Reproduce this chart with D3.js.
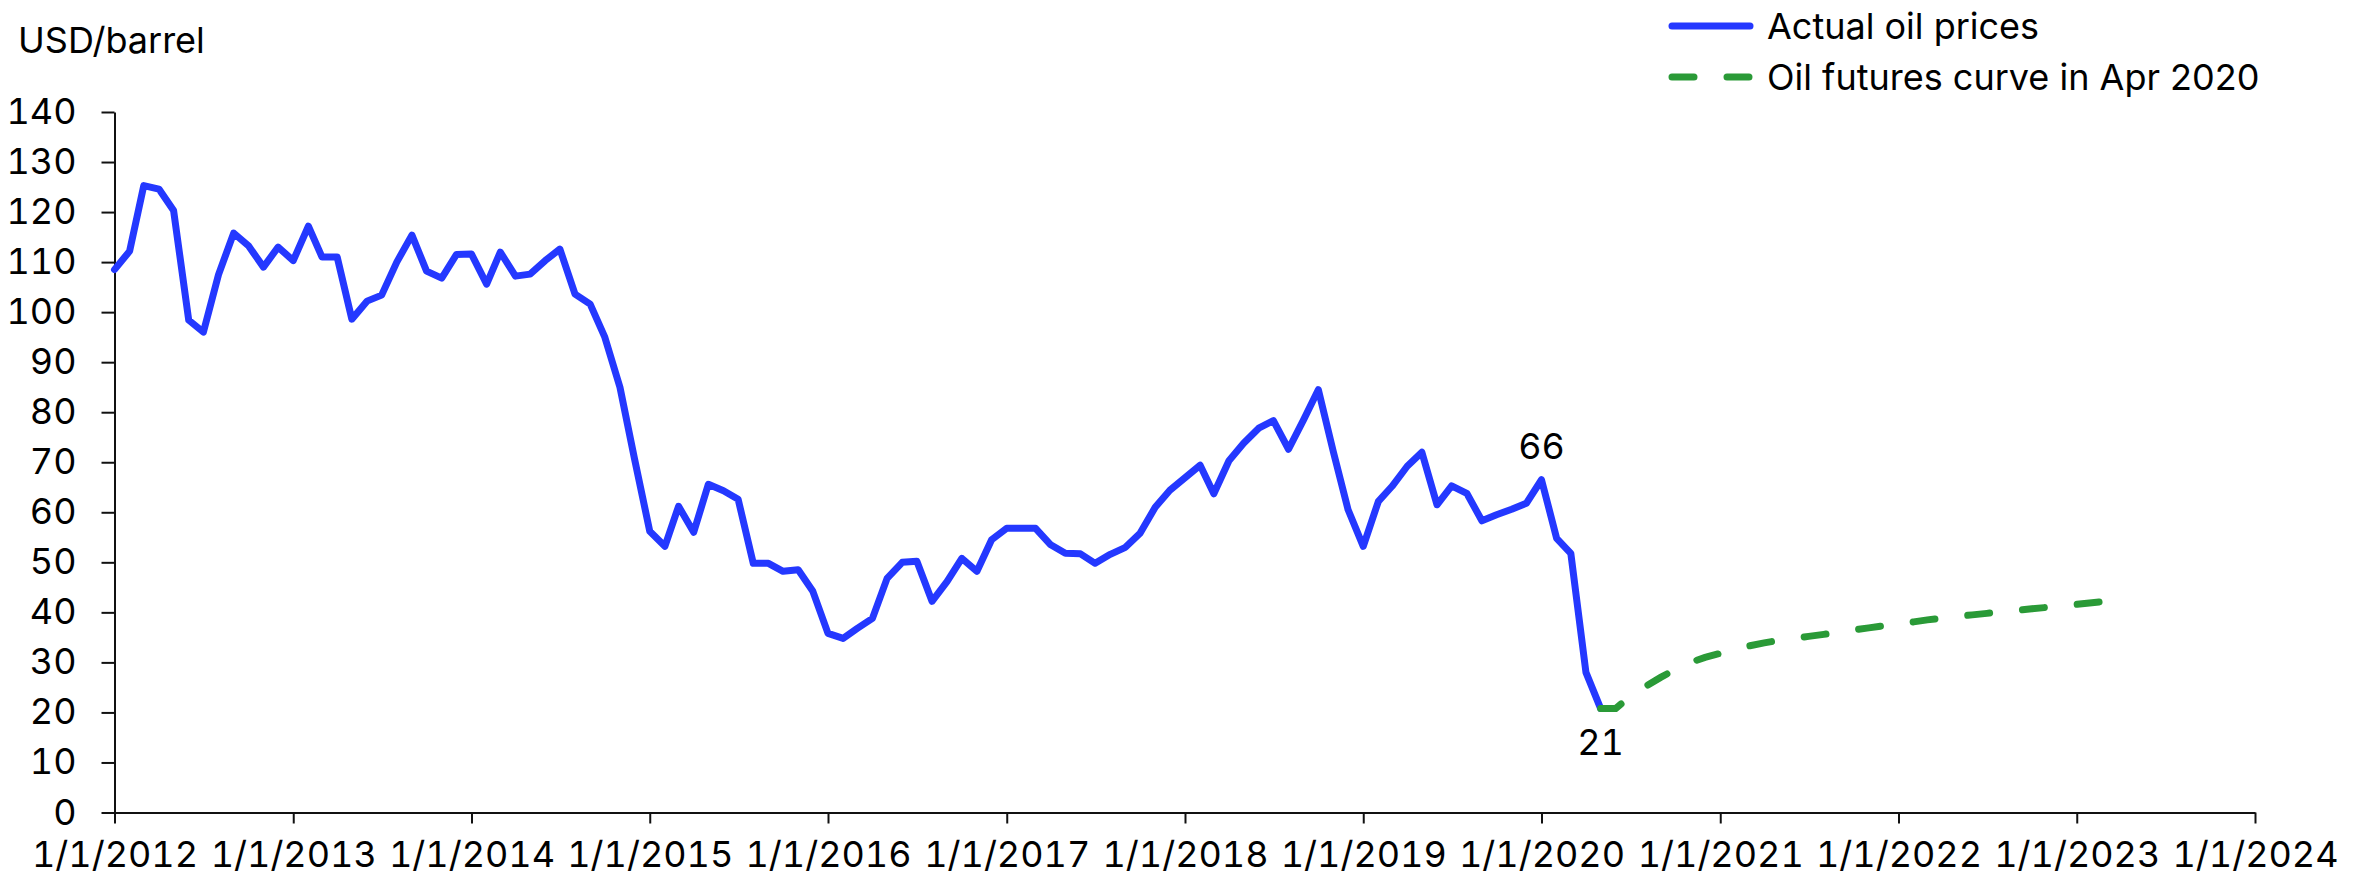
<!DOCTYPE html>
<html>
<head>
<meta charset="utf-8">
<script src="https://cdn.jsdelivr.net/npm/d3@7"></script>
<style>
  body { margin: 0; background: #fff; }
  text { font-family: Inter, "Noto Sans", sans-serif; fill: #000; }
  .num { font-variant-numeric: tabular-nums; font-feature-settings: "tnum"; }
</style>
</head>
<body>
<svg id="chart"></svg>
<script>
// monthly oil prices, first value is Jan 2012
var actualStart = "2012-01";
var actualPrices = [
  108.5, 112.2, 125.3, 124.6, 120.3, 98.4, 96.0, 107.5, 115.8, 113.3, 109.0, 113.0,
  110.3, 117.2, 111.0, 111.0, 98.6, 102.2, 103.4, 110.0, 115.4, 108.2, 106.8, 111.5,
  111.6, 105.6, 112.0, 107.2, 107.6, 110.3, 112.6, 103.6, 101.6, 95.0, 85.0, 70.6,
  56.2, 53.2, 61.2, 56.0, 65.6, 64.3, 62.6, 49.8, 49.8, 48.2, 48.5, 44.2,
  35.8, 34.8, 36.8, 38.8, 46.8, 50.0, 50.2, 42.2, 46.2, 50.8, 48.2, 54.5,
  56.8, 56.8, 56.8, 53.5, 51.8, 51.7, 49.8, 51.6, 53.0, 55.8, 61.0, 64.4,
  66.9, 69.4, 63.7, 70.3, 73.8, 76.8, 78.3, 72.6, 78.5, 84.5, 72.0, 60.5,
  53.2, 62.2, 65.2, 69.2, 72.0, 61.5, 65.3, 63.8, 58.3, 59.5, 60.6, 61.8,
  66.5, 54.8, 51.8, 28.0, 20.8
];

// futures curve as of Apr 2020, first value is May 2020
var futuresStart = "2020-05";
var futuresPrices = [
  20.8, 20.8, 23.2, 25.2, 27.0, 28.6, 30.0, 31.0, 31.8, 32.6, 33.3, 33.9,
  34.4, 34.8, 35.2, 35.6, 36.0, 36.5, 36.9, 37.3, 37.7, 38.1, 38.5, 38.8,
  39.2, 39.5, 39.8, 40.1, 40.4, 40.7, 41.0, 41.3, 41.6, 41.9, 42.2
];

var yTicks = [0, 10, 20, 30, 40, 50, 60, 70, 80, 90, 100, 110, 120, 130, 140];
var xTickYears = [2012, 2013, 2014, 2015, 2016, 2017, 2018, 2019, 2020, 2021, 2022, 2023, 2024];
var seriesNames = ["Actual oil prices", "Oil futures curve in Apr 2020"];
var pointLabels = [{month: "2020-01", text: "66", pos: "above"}, {month: "2020-05", text: "21", pos: "below"}];

var width = 2361, height = 876;
var margin = {top: 112, right: 106, bottom: 63.5, left: 114.5};
var blue = "#2438ff", green = "#2a9a37";

var parseMonth = d3.timeParse("%Y-%m");
function toPoints(start, values) {
  var s = parseMonth(start);
  return values.map(function(v, i) { return {date: d3.timeMonth.offset(s, i), value: v}; });
}
var actual = toPoints(actualStart, actualPrices);
var futures = toPoints(futuresStart, futuresPrices);

var svg = d3.select("#chart")
  .attr("width", width)
  .attr("height", height);

var x = d3.scaleTime()
  .domain([new Date(2012, 0, 1), new Date(2024, 0, 1)])
  .range([margin.left, width - margin.right]);

var y = d3.scaleLinear()
  .domain([0, 140])
  .range([height - margin.bottom, margin.top]);

// axes
var yAxis = svg.append("g")
  .attr("transform", "translate(" + margin.left + ",0)")
  .call(d3.axisLeft(y).tickValues(yTicks).tickSize(13).tickSizeOuter(0).tickPadding(25));

var xAxis = svg.append("g")
  .attr("transform", "translate(0," + (height - margin.bottom) + ")")
  .call(d3.axisBottom(x)
    .tickValues(xTickYears.map(function(yr) { return new Date(yr, 0, 1); }))
    .tickFormat(d3.timeFormat("%-m/%-d/%Y"))
    .tickSize(11).tickSizeOuter(0).tickPadding(18));

[yAxis, xAxis].forEach(function(ax) {
  ax.selectAll("path, line").attr("stroke", "#111").attr("stroke-width", 2);
  ax.selectAll("text").attr("class", "num").style("font-size", "36px").attr("fill", "#000");
});
xAxis.selectAll("text").attr("dy", "0.71em");

svg.append("text")
  .attr("x", 18)
  .attr("y", 53)
  .style("font-size", "36px")
  .text("USD/barrel");

var line = d3.line()
  .x(function(d) { return x(d.date); })
  .y(function(d) { return y(d.value); });

svg.append("path")
  .datum(actual)
  .attr("d", line)
  .attr("fill", "none")
  .attr("stroke", blue)
  .attr("stroke-width", 7)
  .attr("stroke-linejoin", "round")
  .attr("stroke-linecap", "round");

svg.append("path")
  .datum(futures)
  .attr("d", line)
  .attr("fill", "none")
  .attr("stroke", green)
  .attr("stroke-width", 7)
  .attr("stroke-dasharray", "22,33")
  .attr("stroke-linecap", "round");

// data labels
pointLabels.forEach(function(p) {
  var d = actual.find(function(a) { return +a.date === +parseMonth(p.month); });
  svg.append("text")
    .attr("class", "num")
    .attr("x", x(d.date))
    .attr("y", y(d.value) + (p.pos === "above" ? -21 : 47))
    .attr("text-anchor", "middle")
    .style("font-size", "36px")
    .text(p.text);
});

// legend
var legend = svg.append("g").attr("transform", "translate(1672,0)");
legend.append("line")
  .attr("x1", 0).attr("x2", 78).attr("y1", 26).attr("y2", 26)
  .attr("stroke", blue).attr("stroke-width", 7).attr("stroke-linecap", "round");
legend.append("line")
  .attr("x1", 0).attr("x2", 78).attr("y1", 77).attr("y2", 77)
  .attr("stroke", green).attr("stroke-width", 7)
  .attr("stroke-dasharray", "22,33").attr("stroke-linecap", "round");
legend.selectAll("text.leg")
  .data(seriesNames)
  .enter()
  .append("text")
  .attr("class", "leg")
  .attr("x", 95)
  .attr("y", function(d, i) { return 26 + i * 51; })
  .attr("dy", "0.36em")
  .style("font-size", "36px")
  .text(function(d) { return d; });
</script>
</body>
</html>
